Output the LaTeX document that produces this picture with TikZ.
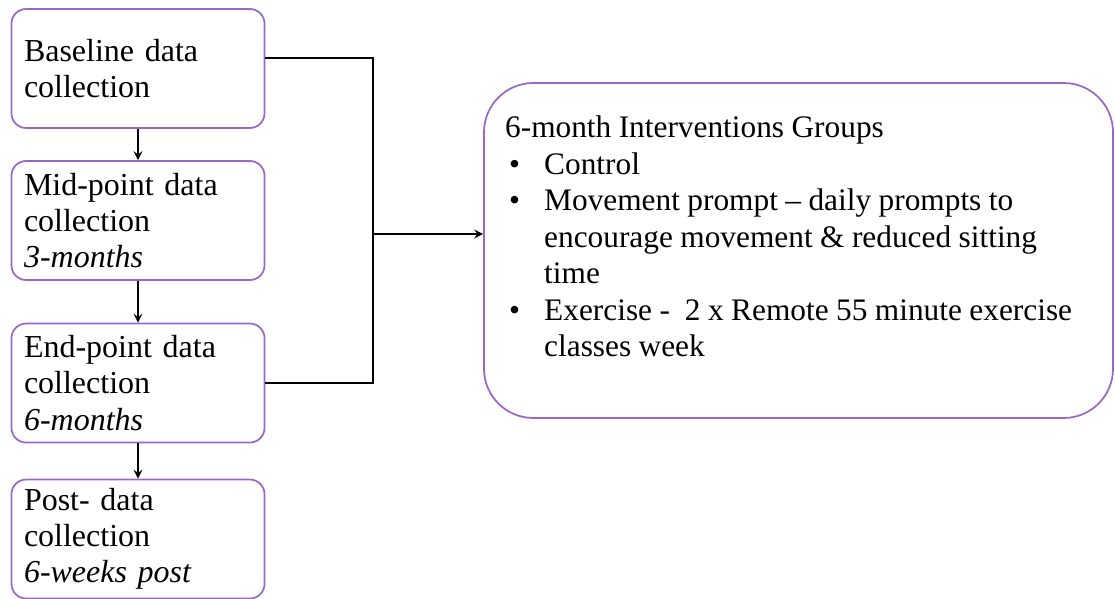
\documentclass[tikz,border=0pt]{standalone}
\usepackage{fontspec}
\setmainfont{Liberation Serif}
\usetikzlibrary{positioning}

\definecolor{boxline}{RGB}{152,104,200}

\begin{document}
\begin{tikzpicture}[x=0.75pt,y=-0.75pt,on grid,>=stealth,
		line width=1.9pt,
		font=\fontsize{24}{27.2}\selectfont,
		stage/.style={draw=boxline,line width=1.3pt,rounded corners=11pt,
			minimum width=189.75pt,minimum height=89.25pt,
			text width=171pt,inner xsep=9.4pt,align=left},
		groups/.style={draw=boxline,line width=1.3pt,rounded corners=37pt,
			minimum width=471.75pt,minimum height=251.25pt,
			text width=440pt,inner xsep=15.9pt,align=left,
			font=\fontsize{23.5}{27.4}\selectfont}]
	\useasboundingbox (0,0) rectangle (1115,599);
	% data collection points
	\node[stage] (base) at (138,68.5) {Baseline data\\collection};
	\node[stage] (mid) [below=114pt of base] {Mid-point data\\collection\\\textit{3-months}};
	\node[stage] (end) [below=121.9pt of mid] {End-point data\\collection\\\textit{6-months}};
	\node[stage] (post) [below=117pt of end] {Post- data\\collection\\\textit{6-weeks post}};
	% intervention groups
	\node[groups] (interv) at (798.5,250.5) {\spaceskip=5.6pt\relax
		\makebox[440pt][l]{6-month Interventions Groups}\\
		\makebox[440pt][l]{\hspace*{3pt}\makebox[26.3pt][l]{\textbullet}Control}\\
		\makebox[440pt][l]{\hspace*{3pt}\makebox[26.3pt][l]{\textbullet}Movement prompt -- daily prompts to}\\
		\makebox[440pt][l]{\hspace*{29.3pt}encourage movement \& reduced sitting}\\
		\makebox[440pt][l]{\hspace*{29.3pt}time}\\
		\makebox[440pt][l]{\hspace*{3pt}\makebox[26.3pt][l]{\textbullet}Exercise -~~2 x Remote 55 minute exercise}\\
		\makebox[440pt][l]{\hspace*{29.3pt}classes week\rule[-21pt]{0pt}{21pt}}};
	\coordinate (bus) at (373,234);
	\path[->]
		(base) edge (mid)
		(mid) edge (end)
		(end) edge (post);
	\draw ([yshift=7.9pt]base.east) -| (bus) |- (end.east);
	\draw[->] (bus) -- (bus -| interv.west);
\end{tikzpicture}
\end{document}
